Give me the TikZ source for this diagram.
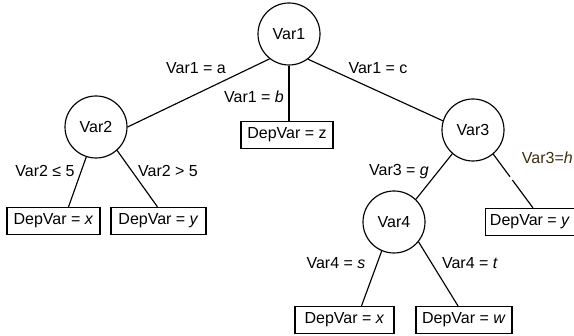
\documentclass[tikz,border=0pt]{standalone}
\usepackage{fontspec}
\setmainfont{Liberation Sans}
\usetikzlibrary{calc}
\definecolor{labelbrown}{HTML}{3D2F12}
\tikzset{
  every node/.style={font=\fontsize{16}{19}\selectfont},
  decision/.style={circle, draw, line width=1.15pt, minimum size=62pt, inner sep=0pt},
  leaf/.style={rectangle, draw, line width=1.15pt, minimum height=27pt, inner xsep=4.5pt, inner ysep=0pt},
  branch/.style={line width=1.15pt},
  edgelabel/.style={inner sep=0pt}
}
\begin{document}
\begin{tikzpicture}[x=1pt, y=-1pt]
  \useasboundingbox (0,0) rectangle (574,336);

  % decision nodes
  \node[decision] (var1) at (289,34)  {Var1};
  \node[decision] (var2) at (96,127)  {Var2};
  \node[decision] (var3) at (473,130) {Var3};
  \node[decision] (var4) at (394,222) {Var4};

  % leaves
  \node[leaf, minimum width=92pt] (z)  at (287,135) {DepVar = z};
  \node[leaf, minimum width=93pt] (xl) at (53.5,221)  {DepVar = \textit{x}};
  \node[leaf, minimum width=95pt] (yl) at (158.5,221) {DepVar = \textit{y}};
  \node[leaf, minimum width=85pt] (yr) at (530,222) {DepVar = \textit{y}};
  \node[leaf, minimum width=99pt] (xb) at (344.5,320) {DepVar = \textit{x}};
  \node[leaf, minimum width=96pt] (wb) at (464,320) {DepVar = \textit{w}};

  % attachment points on the leaf tops
  \coordinate (xltop) at ([xshift=15pt]xl.north);
  \coordinate (yltop) at ([xshift=-1pt]yl.north);
  \coordinate (yrtop) at ([xshift=3pt]yr.north);
  \coordinate (xbtop) at ([xshift=17pt]xb.north);
  \coordinate (wbtop) at ([xshift=-6pt]wb.north);

  % branches
  \draw[branch] (var1.232) -- (var2.east);
  \draw[branch] (var1.south) -- (var1.south |- z.north);
  \draw[branch] (var1.307) -- (var3.163);
  \draw[branch] (var2.252) -- (xltop);
  \draw[branch] (var2.312) -- (yltop);
  \draw[branch] (var3.229) -- (var4.46);
  \draw[branch] (var3.310) -- ($(var3.310)!0.42!(yrtop)$);
  \draw[branch] ($(var3.310)!0.48!(yrtop)$) -- (yrtop);
  \draw[branch] (var4.247) -- (xbtop);
  \draw[branch] (var4.321) -- (wbtop);

  % branch labels
  \node[edgelabel] (l1a) at (196,68)  {Var1 = a};
  \node[edgelabel] (l1b) at (254,97)  {Var1 = \textit{b}};
  \node[edgelabel] (l1c) at (378,68)  {Var1 = c};
  \node[edgelabel] (l2a) at (45,171)  {Var2 ≤ 5};
  \node[edgelabel] (l2b) at (168,171) {Var2 > 5};
  \node[edgelabel] (l3g) at (399,172) {Var3 = \textit{g}};
  \node[edgelabel, anchor=east, text=labelbrown] (l3h) at (573,158) {Var3=\textit{h}};
  \node[edgelabel] (l4s) at (336,263) {Var4 = \textit{s}};
  \node[edgelabel] (l4t) at (470,263) {Var4 = \textit{t}};
\end{tikzpicture}
\end{document}
